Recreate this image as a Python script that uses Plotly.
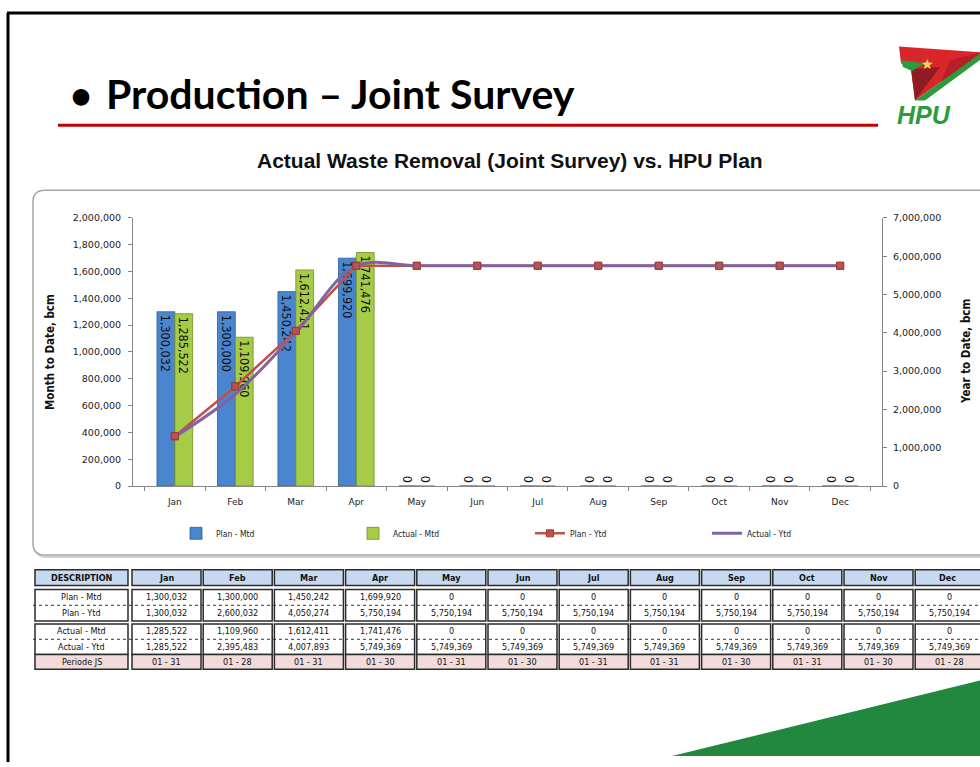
import plotly.graph_objects as go

# ---------------- data ----------------
months = ["Jan", "Feb", "Mar", "Apr", "May", "Jun", "Jul", "Aug", "Sep", "Oct", "Nov", "Dec"]
plan_mtd = [1300032, 1300000, 1450242, 1699920, 0, 0, 0, 0, 0, 0, 0, 0]
actual_mtd = [1285522, 1109960, 1612411, 1741476, 0, 0, 0, 0, 0, 0, 0, 0]
plan_ytd = [1300032, 2600032, 4050274, 5750194, 5750194, 5750194, 5750194, 5750194,
            5750194, 5750194, 5750194, 5750194]
actual_ytd = [1285522, 2395483, 4007893, 5749369, 5749369, 5749369, 5749369, 5749369,
              5749369, 5749369, 5749369, 5749369]
periode_js = ["01 - 31", "01 - 28", "01 - 31", "01 - 30", "01 - 31", "01 - 30",
              "01 - 31", "01 - 31", "01 - 30", "01 - 31", "01 - 30", "01 - 28"]
row_labels = ["Plan - Mtd", "Plan - Ytd", "Actual - Mtd", "Actual - Ytd", "Periode JS"]

W, H = 980, 767


def px(x):
    return x / W


def py(y):
    return 1 - y / H


NARROW = "Liberation Sans Narrow, DejaVu Sans Condensed, Arial Narrow, sans-serif"
SANS = "Liberation Sans, Arial, sans-serif"
TICK = "DejaVu Sans, Verdana, sans-serif"

fig = go.Figure()

text_pos = ["inside" if v > 0 else "outside" for v in plan_mtd]
text_pos2 = ["inside" if v > 0 else "outside" for v in actual_mtd]

fig.add_trace(go.Bar(
    x=months, y=plan_mtd, name="Plan - Mtd",
    marker=dict(color="#4A86CF", line=dict(color="#2F5F9A", width=0.8)),
    texttemplate="%{y:,}", textposition=text_pos, textangle=90,
    insidetextanchor="end", cliponaxis=False, constraintext="none",
    textfont=dict(family=NARROW, size=12.5, color="#111111"),
))
fig.add_trace(go.Bar(
    x=months, y=actual_mtd, name="Actual - Mtd",
    marker=dict(color="#A6CB46", line=dict(color="#6F8E2A", width=0.8)),
    texttemplate="%{y:,}", textposition=text_pos2, textangle=90,
    insidetextanchor="end", cliponaxis=False, constraintext="none",
    textfont=dict(family=NARROW, size=12.5, color="#111111"),
))
fig.add_trace(go.Scatter(
    x=months, y=plan_ytd, name="Plan - Ytd", yaxis="y2", mode="lines+markers",
    line=dict(color="#C0504D", width=2.5),
    marker=dict(symbol="square", size=7, color="#C0504D", line=dict(color="#9B3B38", width=1)),
))
fig.add_trace(go.Scatter(
    x=months, y=actual_ytd, name="Actual - Ytd", yaxis="y2", mode="lines",
    line=dict(color="#8064A2", width=3, shape="spline", smoothing=1.0),
))
fig.add_trace(go.Scatter(
    x=months, y=plan_ytd, yaxis="y2", mode="markers", showlegend=False,
    marker=dict(symbol="square", size=7, color="rgba(192,80,77,0.75)",
                line=dict(color="#9B3B38", width=1)),
))

axis_col = "#868686"
tick_font = dict(family=TICK, size=9.5, color="#222222")

fig.update_layout(
    width=W, height=H,
    margin=dict(l=0, r=0, t=0, b=0),
    paper_bgcolor="white", plot_bgcolor="rgba(0,0,0,0)",
    barmode="group", bargap=0.41, bargroupgap=0.0,
    showlegend=True,
    legend=dict(orientation="h", x=px(176), xanchor="left", y=py(535), yanchor="middle",
                font=dict(family=NARROW, size=8.5, color="#222222"),
                entrywidth=132, entrywidthmode="pixels", bgcolor="rgba(0,0,0,0)",
                itemwidth=30, tracegroupgap=0),
    xaxis=dict(domain=[px(133), px(882)], showline=True, linecolor=axis_col, linewidth=1,
               ticks="outside", ticklen=4, tickcolor=axis_col, tickson="boundaries",
               tickfont=dict(family=TICK, size=9, color="#222222"), ticklabelstandoff=7,
               showgrid=False, zeroline=False, fixedrange=True),
    yaxis=dict(domain=[py(487), py(215)], range=[0, 2000000], dtick=200000,
               tickformat=",", showline=True, linecolor=axis_col, linewidth=1,
               ticks="outside", ticklen=4, tickcolor=axis_col, tickfont=tick_font,
               ticklabelstandoff=5, showgrid=False, zeroline=False),
    yaxis2=dict(overlaying="y", side="right", anchor="x", range=[0, 7000000], dtick=1000000,
                tickformat=",", showline=True, linecolor=axis_col, linewidth=1,
                ticks="outside", ticklen=4, tickcolor=axis_col, tickfont=tick_font,
                ticklabelstandoff=4, showgrid=False, zeroline=False),
)

shapes = []
annotations = []

# slide frame
shapes.append(dict(type="line", xref="paper", yref="paper", x0=px(8), x1=px(8), y0=py(7), y1=py(767),
                   line=dict(color="black", width=3)))
shapes.append(dict(type="line", xref="paper", yref="paper", x0=px(7), x1=px(980), y0=py(7), y1=py(7),
                   line=dict(color="black", width=3)))

# title underline
shapes.append(dict(type="line", xref="paper", yref="paper", x0=px(58), x1=px(878), y0=py(121), y1=py(121),
                   line=dict(color="#C00000", width=3)))


def path(points):
    return "M " + " L ".join(f"{px(x):.5f},{py(y):.5f}" for x, y in points) + " Z"


def rounded_panel(x0, y0, x1, y1, r):
    return (f"M {px(x0):.5f},{py(y0 + r):.5f} Q {px(x0):.5f},{py(y0):.5f} {px(x0 + r):.5f},{py(y0):.5f} "
            f"L {px(x1):.5f},{py(y0):.5f} L {px(x1):.5f},{py(y1):.5f} L {px(x0 + r):.5f},{py(y1):.5f} "
            f"Q {px(x0):.5f},{py(y1):.5f} {px(x0):.5f},{py(y1 - r):.5f} Z")


# chart panel with shadow
shapes.append(dict(type="path", xref="paper", yref="paper", path=rounded_panel(35, 189, 995, 559, 12),
                   line=dict(color="#D0D0D0", width=2), fillcolor="rgba(0,0,0,0)", layer="below"))
shapes.append(dict(type="path", xref="paper", yref="paper", path=rounded_panel(33, 187, 993, 557, 12),
                   line=dict(color="#A6A6A6", width=1.5), fillcolor="white", layer="below"))

# green triangle bottom-right
shapes.append(dict(type="path", xref="paper", yref="paper",
                   path=path([(672, 761), (985, 683), (985, 761)]),
                   line=dict(width=0), fillcolor="#22873F"))

# logo
shapes.append(dict(type="path", xref="paper", yref="paper",
                   path=path([(899, 41), (982, 47), (915, 96), (911, 64), (901, 58)]),
                   line=dict(width=0), fillcolor="#D8262B"))
shapes.append(dict(type="path", xref="paper", yref="paper",
                   path=path([(911, 64), (940, 62), (915, 96)]),
                   line=dict(width=0), fillcolor="#8E1C20"))
shapes.append(dict(type="path", xref="paper", yref="paper",
                   path=path([(950, 55), (982, 47), (940, 80)]),
                   line=dict(width=0), fillcolor="#B51F25"))
shapes.append(dict(type="path", xref="paper", yref="paper",
                   path=path([(982, 47), (985, 51), (925, 96), (915, 96)]),
                   line=dict(width=0), fillcolor="#2E9A3E"))
shapes.append(dict(type="path", xref="paper", yref="paper",
                   path=path([(901, 55), (925, 58), (912, 66), (903, 62)]),
                   line=dict(width=0), fillcolor="#2E9A3E"))
annotations.append(dict(x=px(927), y=py(58), xref="paper", yref="paper", text="★", showarrow=False,
                        font=dict(size=14, color="#FFE14D"), xanchor="center", yanchor="middle"))
annotations.append(dict(x=px(924), y=py(111), xref="paper", yref="paper", text="<b><i>HPU</i></b>",
                        showarrow=False, font=dict(family=SANS, size=25, color="#2E9A3E"),
                        xanchor="center", yanchor="middle"))

# titles
annotations.append(dict(x=px(68), y=py(89), xref="paper", yref="paper", text="<b>•</b>", showarrow=False,
                        font=dict(family="Lato, sans-serif", size=38, color="black"),
                        xanchor="left", yanchor="middle"))
annotations.append(dict(x=px(104), y=py(89), xref="paper", yref="paper",
                        text="<b>Production – Joint Survey</b>", showarrow=False,
                        font=dict(family="Lato, sans-serif", size=41, color="black"),
                        xanchor="left", yanchor="middle"))
annotations.append(dict(x=px(510), y=py(157), xref="paper", yref="paper",
                        text="<b>Actual Waste Removal (Joint Survey) vs. HPU Plan</b>", showarrow=False,
                        font=dict(family=SANS, size=21, color="#111111"),
                        xanchor="center", yanchor="middle"))

# axis titles
annotations.append(dict(x=px(50), y=py(351), xref="paper", yref="paper", text="<b>Month to Date, bcm</b>",
                        showarrow=False, textangle=-90, font=dict(family=NARROW, size=11.5, color="#111111"),
                        xanchor="center", yanchor="middle"))
annotations.append(dict(x=px(966), y=py(351), xref="paper", yref="paper", text="<b>Year to Date, bcm</b>",
                        showarrow=False, textangle=-90, font=dict(family=NARROW, size=11.5, color="#111111"),
                        xanchor="center", yanchor="middle"))

# ---------------- table ----------------
border = dict(color="#2B2B2B", width=1.5)
tfont = dict(family=NARROW, size=9, color="#111111")
col_x = [(35, 128)] + [(132 + i * 71.2, 132 + i * 71.2 + 69) for i in range(12)]
col_x[-1] = (col_x[-1][0], 985)


def cell(x0, y0, x1, y1, fill):
    shapes.append(dict(type="rect", xref="paper", yref="paper", x0=px(x0), x1=px(x1),
                       y0=py(y0), y1=py(y1), line=border, fillcolor=fill))


def txt(xc, yc, s, bold=False):
    annotations.append(dict(x=px(xc), y=py(yc), xref="paper", yref="paper",
                            text=f"<b>{s}</b>" if bold else s, showarrow=False, font=tfont,
                            xanchor="center", yanchor="middle"))


header = ["DESCRIPTION"] + months
for (x0, x1), h in zip(col_x, header):
    cell(x0, 572, x1, 588, "#C6D9F0")
    cell(x0, 592, x1, 624, "white")
    cell(x0, 627, x1, 658, "white")
    cell(x0, 658, x1, 673, "#F2DCDB")
    xc = (x0 + min(x1, 980)) / 2
    txt(xc, 580, h, bold=True)

for y in (608, 642.5):
    shapes.append(dict(type="line", xref="paper", yref="paper", x0=px(33), x1=px(985), y0=py(y), y1=py(y),
                       line=dict(color="#333333", width=1, dash="dot")))

row_y = [599.5, 615.5, 634.5, 650, 665.5]
for lab, yc in zip(row_labels, row_y):
    txt((35 + 128) / 2, yc, lab)

rows = [plan_mtd, plan_ytd, actual_mtd, actual_ytd]
for i in range(12):
    x0, x1 = col_x[i + 1]
    xc = (x0 + min(x1, 984)) / 2
    for vals, yc in zip(rows, row_y[:4]):
        txt(xc, yc, f"{vals[i]:,}")
    txt(xc, row_y[4], periode_js[i])

fig.update_layout(shapes=shapes, annotations=annotations)

fig.write_html("out.html", config={"displayModeBar": False},
               post_script="document.body.style.margin='0';document.body.style.overflow='hidden';")
